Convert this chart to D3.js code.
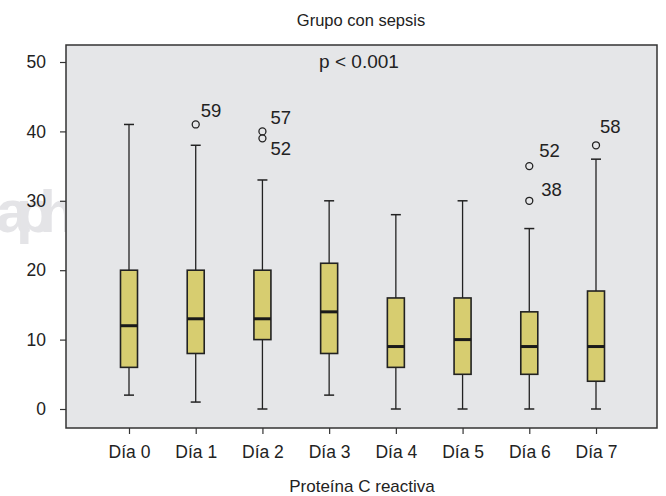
<!DOCTYPE html>
<html>
<head>
<meta charset="utf-8">
<script src="https://cdn.jsdelivr.net/npm/d3@7"></script>
<style>
  html, body { margin: 0; padding: 0; background: #ffffff; }
  svg text { font-family: "Liberation Sans", Arial, Helvetica, sans-serif; fill: #222; }
</style>
</head>
<body>
<svg id="chart" width="666" height="496"></svg>
<script>
// Proteína C reactiva, grupo con sepsis: días 0–7
const days = ["Día 0", "Día 1", "Día 2", "Día 3", "Día 4", "Día 5", "Día 6", "Día 7"];
const whiskerLow  = [2, 1, 0, 2, 0, 0, 0, 0];
const q1          = [6, 8, 10, 8, 6, 5, 5, 4];
const median      = [12, 13, 13, 14, 9, 10, 9, 9];
const q3          = [20, 20, 20, 21, 16, 16, 14, 17];
const whiskerHigh = [41, 38, 33, 30, 28, 30, 26, 36];

// Outliers: day index, value, case label
const outlierDay   = [1, 2, 2, 6, 6, 7];
const outlierValue = [41, 40, 39, 35, 30, 38];
const outlierCase  = ["59", "57", "52", "52", "38", "58"];

const yTicks = [0, 10, 20, 30, 40, 50];

const svg = d3.select("#chart");

// Plot panel bounds
const panel = { left: 66, right: 657, top: 45, bottom: 428 };

const x = d3.scalePoint().domain(days).range([129, 596]);
const y = d3.scaleLinear().domain([0, 50]).range([409, 62]);

// Faint watermark behind the panel
svg.append("text")
  .attr("x", -4).attr("y", 232)
  .attr("font-size", 60).attr("font-weight", "bold")
  .style("fill", "#e4e4e7")
  .attr("textLength", 80)
  .text("aph");

// Panel
svg.append("rect")
  .attr("x", panel.left).attr("y", panel.top)
  .attr("width", panel.right - panel.left).attr("height", panel.bottom - panel.top)
  .attr("fill", "#e5e6e8").attr("stroke", "#333").attr("stroke-width", 1.5);

// Y axis
const yAxis = svg.append("g")
  .attr("transform", `translate(${panel.left},0)`)
  .call(d3.axisLeft(y).tickValues(yTicks).tickSize(6).tickPadding(14));
yAxis.select(".domain").remove();
yAxis.selectAll("line").attr("stroke", "#333").attr("stroke-width", 1.2);
yAxis.selectAll("text").attr("font-size", 17.5).attr("font-family", null).attr("fill", null);

// X axis
const xAxis = svg.append("g")
  .attr("transform", `translate(0,${panel.bottom})`)
  .call(d3.axisBottom(x).tickSize(6).tickPadding(12));
xAxis.select(".domain").remove();
xAxis.selectAll("line").attr("stroke", "#333").attr("stroke-width", 1.2);
xAxis.selectAll("text").attr("font-size", 17.5).attr("font-family", null).attr("fill", null);

// Box plots
const boxW = 17, capW = 10;
const boxes = svg.append("g").selectAll("g")
  .data(days.map((d, i) => ({ d, i })))
  .join("g");

boxes.append("line")
  .attr("x1", b => x(b.d)).attr("x2", b => x(b.d))
  .attr("y1", b => y(whiskerLow[b.i])).attr("y2", b => y(q1[b.i]))
  .attr("stroke", "#222").attr("stroke-width", 1.3);
boxes.append("line")
  .attr("x1", b => x(b.d)).attr("x2", b => x(b.d))
  .attr("y1", b => y(q3[b.i])).attr("y2", b => y(whiskerHigh[b.i]))
  .attr("stroke", "#222").attr("stroke-width", 1.3);
boxes.append("line")
  .attr("x1", b => x(b.d) - capW / 2).attr("x2", b => x(b.d) + capW / 2)
  .attr("y1", b => y(whiskerLow[b.i])).attr("y2", b => y(whiskerLow[b.i]))
  .attr("stroke", "#222").attr("stroke-width", 1.5);
boxes.append("line")
  .attr("x1", b => x(b.d) - capW / 2).attr("x2", b => x(b.d) + capW / 2)
  .attr("y1", b => y(whiskerHigh[b.i])).attr("y2", b => y(whiskerHigh[b.i]))
  .attr("stroke", "#222").attr("stroke-width", 1.5);
boxes.append("rect")
  .attr("x", b => x(b.d) - boxW / 2).attr("width", boxW)
  .attr("y", b => y(q3[b.i])).attr("height", b => y(q1[b.i]) - y(q3[b.i]))
  .attr("fill", "#d7cd70").attr("stroke", "#222").attr("stroke-width", 1.6);
boxes.append("line")
  .attr("x1", b => x(b.d) - boxW / 2).attr("x2", b => x(b.d) + boxW / 2)
  .attr("y1", b => y(median[b.i])).attr("y2", b => y(median[b.i]))
  .attr("stroke", "#1a1a1a").attr("stroke-width", 3);

// Outlier circles and their case numbers
const labelShift = { 0: [5, -7], 1: [8, -7], 2: [8, 17], 3: [10, -9], 4: [12, -5], 5: [4, -12] };
const outliers = outlierDay.map((di, k) => ({ k, d: days[di], v: outlierValue[k], c: outlierCase[k] }));
svg.append("g").selectAll("circle")
  .data(outliers).join("circle")
  .attr("cx", o => x(o.d)).attr("cy", o => y(o.v)).attr("r", 3.5)
  .attr("fill", "none").attr("stroke", "#222").attr("stroke-width", 1.3);
svg.append("g").selectAll("text")
  .data(outliers).join("text")
  .attr("x", o => x(o.d) + labelShift[o.k][0])
  .attr("y", o => y(o.v) + labelShift[o.k][1])
  .attr("font-size", 18.5)
  .text(o => o.c);

// Titles
svg.append("text").attr("x", 361).attr("y", 26).attr("text-anchor", "middle")
  .attr("font-size", 16.5).text("Grupo con sepsis");
svg.append("text").attr("x", 359).attr("y", 68).attr("text-anchor", "middle")
  .attr("font-size", 19).text("p < 0.001");
svg.append("text").attr("x", 362).attr("y", 492).attr("text-anchor", "middle")
  .attr("font-size", 17).text("Proteína C reactiva");
</script>
</body>
</html>
